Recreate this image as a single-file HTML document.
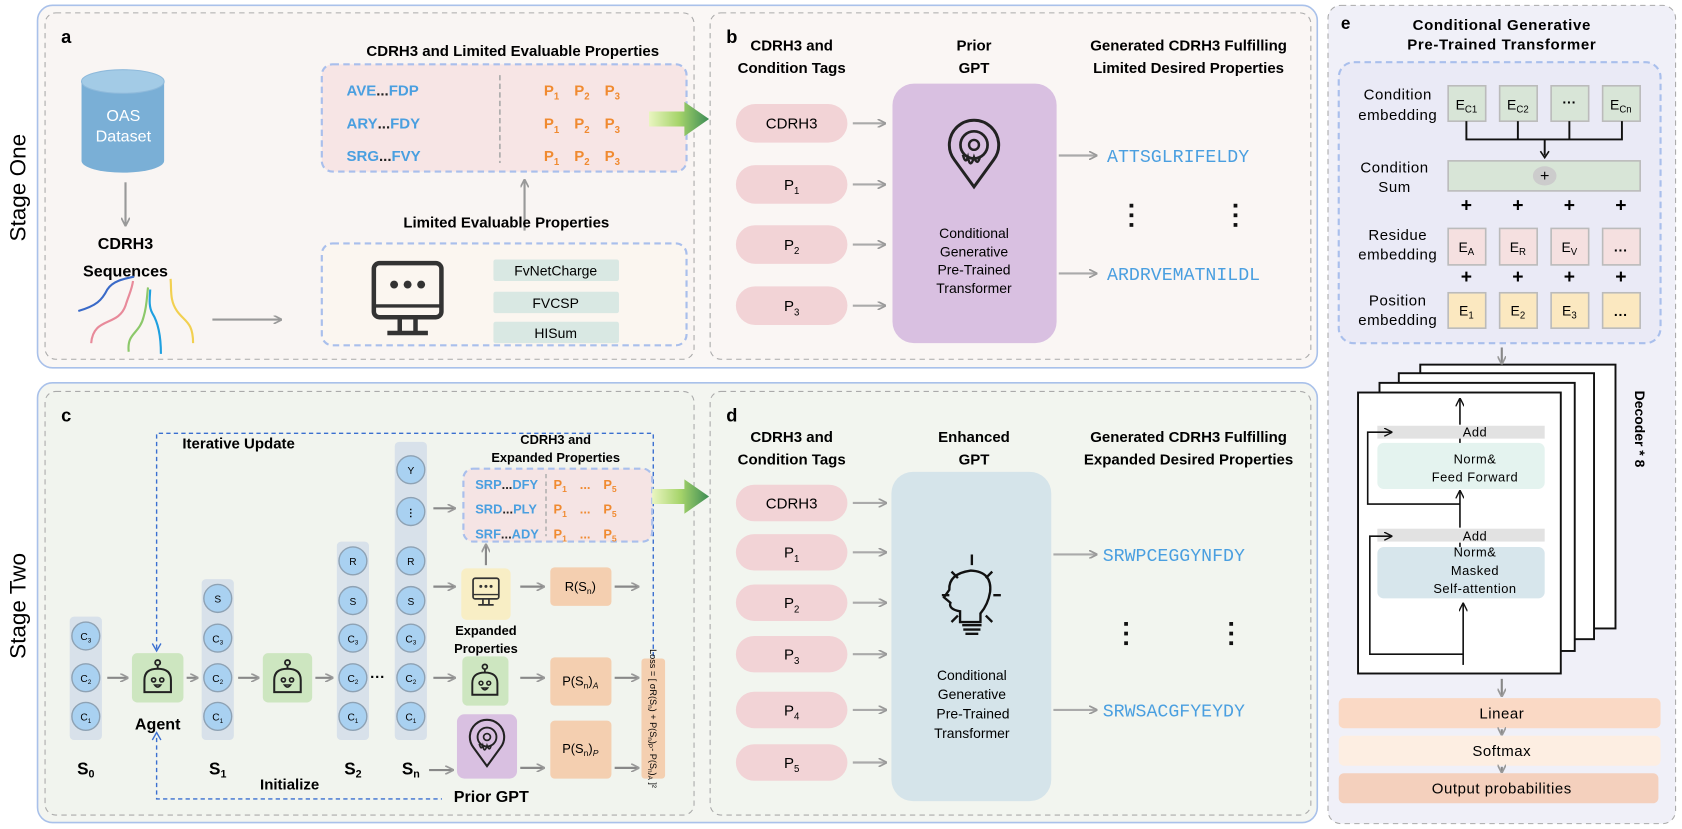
<!DOCTYPE html>
<html><head><meta charset="utf-8"><style>
html,body{margin:0;padding:0;background:#fff;}
svg{display:block;font-family:"Liberation Sans",sans-serif;}
.b{font-weight:bold;}
.seq{font-family:"Liberation Mono",monospace;fill:#4a9fe0;font-size:17px;}
</style></head><body>
<svg width="1682" height="829" viewBox="0 0 1568 773" preserveAspectRatio="none" xmlns="http://www.w3.org/2000/svg">
<defs>
<marker id="ar" markerWidth="8" markerHeight="8" refX="7" refY="4" orient="auto" markerUnits="userSpaceOnUse"><path d="M0,0 L8,4 L0,8" fill="none" stroke="#999" stroke-width="1.6"/></marker>
<marker id="ab" markerWidth="8" markerHeight="8" refX="7" refY="4" orient="auto" markerUnits="userSpaceOnUse"><path d="M0,0 L8,4 L0,8" fill="none" stroke="#3a6fd0" stroke-width="1.3"/></marker>
<marker id="ak" markerWidth="8" markerHeight="8" refX="7" refY="4" orient="auto" markerUnits="userSpaceOnUse"><path d="M0,0 L8,4 L0,8" fill="none" stroke="#111" stroke-width="1.3"/></marker>
<linearGradient id="gg" x1="0" x2="1"><stop offset="0" stop-color="#e9f5c0"/><stop offset="0.5" stop-color="#a6d46a"/><stop offset="1" stop-color="#3d8c55"/></linearGradient>
<g id="robot"><circle cx="0" cy="-17" r="2.5" fill="none" stroke="#222" stroke-width="1.8"/><line x1="0" y1="-14" x2="0" y2="-11" stroke="#222" stroke-width="1.8"/><path d="M-13,12 L-13,0 Q-13,-11 0,-11 Q13,-11 13,0 L13,12 Z" fill="none" stroke="#222" stroke-width="2"/><circle cx="-4" cy="0" r="2" fill="none" stroke="#222" stroke-width="1.6"/><circle cx="4" cy="0" r="2" fill="none" stroke="#222" stroke-width="1.6"/><path d="M-3,5 Q0,9 3,5 Z" fill="none" stroke="#222" stroke-width="1.5"/></g>
<g id="pin"><path d="M0,28 L-16,6 A20,20 0 1 1 16,6 Z" fill="none" stroke="#222" stroke-width="2.4"/><circle cx="0" cy="-6" r="11" fill="none" stroke="#222" stroke-width="2.2"/><circle cx="0" cy="-6" r="4" fill="none" stroke="#222" stroke-width="2"/><path d="M-9,2 q2,8 4,2 q2,10 5,0 q3,8 5,-1" fill="none" stroke="#222" stroke-width="2"/></g>
<g id="mon"><rect x="-30" y="-32" width="60" height="48" rx="5" fill="none" stroke="#333" stroke-width="4"/><line x1="-30" y1="6" x2="30" y2="6" stroke="#333" stroke-width="3"/><circle cx="-12" cy="-13" r="3.5" fill="#333"/><circle cx="0" cy="-13" r="3.5" fill="#333"/><circle cx="12" cy="-13" r="3.5" fill="#333"/><path d="M-7,16 V28 M7,16 V28 M-18,30 H18" stroke="#333" stroke-width="4" fill="none"/></g>
<g id="circ"><circle r="13" fill="#a9d1f1" stroke="#8ea2b4" stroke-width="1.3"/></g>
</defs>

<rect x="35" y="5" width="1193" height="338" rx="14" fill="#faf7f5" stroke="#a9c1ea" stroke-width="1.5"/>
<rect x="35" y="357" width="1193" height="410" rx="14" fill="#f3f5f0" stroke="#a9c1ea" stroke-width="1.5"/>
<text transform="translate(24,175) rotate(-90)" text-anchor="middle" font-size="21">Stage One</text>
<text transform="translate(24,565) rotate(-90)" text-anchor="middle" font-size="21">Stage Two</text>

<rect x="42" y="12" width="605" height="323" rx="10" fill="#f9f5f3" stroke="#aaa" stroke-dasharray="5,4"/>
<rect x="662" y="12" width="560" height="323" rx="10" fill="#faf6f4" stroke="#aaa" stroke-dasharray="5,4"/>
<rect x="42" y="365" width="605" height="395" rx="10" fill="#f1f4ee" stroke="#aaa" stroke-dasharray="5,4"/>
<rect x="662" y="365" width="560" height="395" rx="10" fill="#f2f5ef" stroke="#aaa" stroke-dasharray="5,4"/>
<rect x="1238" y="5" width="324" height="763" rx="12" fill="#f0f0f8" stroke="#aaa" stroke-dasharray="5,4"/>

<!-- Panel a -->
<text x="57" y="40" class="b" font-size="17">a</text>
<path d="M76,76 V150 A38.5,11 0 0 0 153,150 V76" fill="#7aafd6"/>
<ellipse cx="114.5" cy="76" rx="38.5" ry="11" fill="#a3cbe6" stroke="#8fbadb"/>
<text x="115" y="113" text-anchor="middle" fill="#fff" font-size="15">OAS</text>
<text x="115" y="132" text-anchor="middle" fill="#fff" font-size="15">Dataset</text>
<line x1="117" y1="170" x2="117" y2="210" stroke="#999" stroke-width="2" marker-end="url(#ar)"/>
<text x="117" y="232" text-anchor="middle" class="b" font-size="15">CDRH3</text>
<text x="117" y="258" text-anchor="middle" class="b" font-size="15">Sequences</text>
<path d="M73,290 C90,285 95,280 100,270 C105,262 115,260 125,258" fill="none" stroke="#3a6ac8" stroke-width="2"/>
<path d="M85,320 C87,295 110,305 117,285 C120,275 123,270 124,262" fill="none" stroke="#e88a9a" stroke-width="2"/>
<path d="M120,328 C118,310 130,312 134,295 C137,285 137,275 138,268" fill="none" stroke="#8cc86a" stroke-width="2"/>
<path d="M150,330 C150,312 147,300 142,292 C138,285 140,275 140,270" fill="none" stroke="#1fa0e0" stroke-width="2"/>
<path d="M180,320 C180,300 172,300 165,290 C158,280 160,270 159,260" fill="none" stroke="#f2d050" stroke-width="2"/>
<line x1="198" y1="298" x2="262" y2="298" stroke="#999" stroke-width="2" marker-end="url(#ar)"/>

<text x="478" y="52" text-anchor="middle" class="b" font-size="14">CDRH3 and Limited Evaluable Properties</text>
<rect x="300" y="60" width="340" height="100" rx="10" fill="#f7e5e5" stroke="#a9bfec" stroke-width="2" stroke-dasharray="6,4"/>
<line x1="466" y1="70" x2="466" y2="152" stroke="#aaa" stroke-width="1.5" stroke-dasharray="5,3"/>
<g class="b" font-size="14" fill="#4a9fe0">
<text x="323" y="89">AVE<tspan fill="#222">...</tspan>FDP</text>
<text x="323" y="120">ARY<tspan fill="#222">...</tspan>FDY</text>
<text x="323" y="150">SRG<tspan fill="#222">...</tspan>FVY</text>
</g>
<g class="b" font-size="14" fill="#f08a30">
<text x="507" y="89">P<tspan font-size="9" dy="4">1</tspan><tspan dx="14" dy="-4">P</tspan><tspan font-size="9" dy="4">2</tspan><tspan dx="14" dy="-4">P</tspan><tspan font-size="9" dy="4">3</tspan></text>
<text x="507" y="120">P<tspan font-size="9" dy="4">1</tspan><tspan dx="14" dy="-4">P</tspan><tspan font-size="9" dy="4">2</tspan><tspan dx="14" dy="-4">P</tspan><tspan font-size="9" dy="4">3</tspan></text>
<text x="507" y="150">P<tspan font-size="9" dy="4">1</tspan><tspan dx="14" dy="-4">P</tspan><tspan font-size="9" dy="4">2</tspan><tspan dx="14" dy="-4">P</tspan><tspan font-size="9" dy="4">3</tspan></text>
</g>
<line x1="489" y1="215" x2="489" y2="168" stroke="#999" stroke-width="2" marker-end="url(#ar)"/>
<text x="472" y="212" text-anchor="middle" class="b" font-size="14">Limited Evaluable Properties</text>
<rect x="300" y="227" width="340" height="95" rx="10" fill="#fbf6f0" stroke="#a9bfec" stroke-width="2" stroke-dasharray="6,4"/>
<use href="#mon" transform="translate(380,279) scale(1.05)"/>
<rect x="460" y="242" width="117" height="20" rx="2" fill="#d9e8e3"/>
<rect x="460" y="272" width="117" height="20" rx="2" fill="#d9e8e3"/>
<rect x="460" y="300" width="117" height="20" rx="2" fill="#d9e8e3"/>
<g font-size="13" text-anchor="middle"><text x="518" y="257">FvNetCharge</text><text x="518" y="287">FVCSP</text><text x="518" y="315">HISum</text></g>
<path d="M605,104 H638 V95 L661,111 L638,127 V118 H605 Z" fill="url(#gg)"/>

<!-- Panel b -->
<text x="677" y="40" class="b" font-size="17">b</text>
<g class="b" font-size="14" text-anchor="middle">
<text x="738" y="47">CDRH3 and</text><text x="738" y="68">Condition Tags</text>
<text x="908" y="47">Prior</text><text x="908" y="68">GPT</text>
<text x="1108" y="47">Generated CDRH3 Fulfilling</text><text x="1108" y="68">Limited Desired Properties</text>
</g>
<g fill="#f2d3d6"><rect x="686" y="97" width="104" height="36" rx="18"/><rect x="686" y="154" width="104" height="36" rx="18"/><rect x="686" y="210" width="104" height="36" rx="18"/><rect x="686" y="267" width="104" height="36" rx="18"/></g>
<g font-size="14" text-anchor="middle"><text x="738" y="120">CDRH3</text><text x="738" y="177">P<tspan font-size="9" dy="4">1</tspan></text><text x="738" y="233">P<tspan font-size="9" dy="4">2</tspan></text><text x="738" y="290">P<tspan font-size="9" dy="4">3</tspan></text></g>
<g stroke="#aaa" stroke-width="2" marker-end="url(#ar)"><line x1="795" y1="115" x2="825" y2="115"/><line x1="795" y1="172" x2="825" y2="172"/><line x1="795" y1="228" x2="825" y2="228"/><line x1="795" y1="285" x2="825" y2="285"/></g>
<rect x="832" y="78" width="153" height="242" rx="20" fill="#d9c0e1"/>
<use href="#pin" transform="translate(908,142) scale(1.15)"/>
<g font-size="13" text-anchor="middle"><text x="908" y="222">Conditional</text><text x="908" y="239">Generative</text><text x="908" y="256">Pre-Trained</text><text x="908" y="273">Transformer</text></g>
<g stroke="#aaa" stroke-width="2" marker-end="url(#ar)"><line x1="987" y1="145" x2="1022" y2="145"/><line x1="987" y1="255" x2="1022" y2="255"/></g>
<text x="1032" y="151" class="seq">ATTSGLRIFELDY</text>
<text x="1032" y="261" class="seq">ARDRVEMATNILDL</text>
<g fill="#111"><rect x="1053" y="190" width="3.5" height="3.5"/><rect x="1053" y="199" width="3.5" height="3.5"/><rect x="1053" y="208" width="3.5" height="3.5"/><rect x="1150" y="190" width="3.5" height="3.5"/><rect x="1150" y="199" width="3.5" height="3.5"/><rect x="1150" y="208" width="3.5" height="3.5"/></g>

<!-- Panel c -->
<text x="57" y="393" class="b" font-size="17">c</text>
<path d="M146,605 V404 H609 V612" fill="none" stroke="#3a6fd0" stroke-width="1.3" stroke-dasharray="4,3"/>
<path d="M146,688 V745 H412" fill="none" stroke="#3a6fd0" stroke-width="1.3" stroke-dasharray="4,3"/>
<path d="M142,600 L146,607 L150,600 M142,690 L146,683 L150,690" fill="none" stroke="#3a6fd0" stroke-width="1.3"/>
<text x="170" y="418" class="b" font-size="14">Iterative Update</text>
<text x="270" y="736" text-anchor="middle" class="b" font-size="14">Initialize</text>
<text x="458" y="748" text-anchor="middle" class="b" font-size="15">Prior GPT</text>

<g fill="#d8e1ea">
<rect x="65" y="575" width="30" height="115" rx="4"/>
<rect x="188" y="540" width="30" height="150" rx="4"/>
<rect x="314" y="505" width="30" height="185" rx="4"/>
<rect x="368" y="412" width="30" height="278" rx="4"/>
</g>
<g font-size="9.5" text-anchor="middle">
<use href="#circ" x="80" y="593"/><use href="#circ" x="80" y="632"/><use href="#circ" x="80" y="668"/>
<text x="80" y="597">C<tspan font-size="6" dy="2">3</tspan></text><text x="80" y="636">C<tspan font-size="6" dy="2">2</tspan></text><text x="80" y="672">C<tspan font-size="6" dy="2">1</tspan></text>
<use href="#circ" x="203" y="558"/><use href="#circ" x="203" y="595"/><use href="#circ" x="203" y="632"/><use href="#circ" x="203" y="668"/>
<text x="203" y="562">S</text><text x="203" y="599">C<tspan font-size="6" dy="2">3</tspan></text><text x="203" y="636">C<tspan font-size="6" dy="2">2</tspan></text><text x="203" y="672">C<tspan font-size="6" dy="2">1</tspan></text>
<use href="#circ" x="329" y="523"/><use href="#circ" x="329" y="560"/><use href="#circ" x="329" y="595"/><use href="#circ" x="329" y="632"/><use href="#circ" x="329" y="668"/>
<text x="329" y="527">R</text><text x="329" y="564">S</text><text x="329" y="599">C<tspan font-size="6" dy="2">3</tspan></text><text x="329" y="636">C<tspan font-size="6" dy="2">2</tspan></text><text x="329" y="672">C<tspan font-size="6" dy="2">1</tspan></text>
<use href="#circ" x="383" y="438"/><use href="#circ" x="383" y="477"/><use href="#circ" x="383" y="523"/><use href="#circ" x="383" y="560"/><use href="#circ" x="383" y="595"/><use href="#circ" x="383" y="632"/><use href="#circ" x="383" y="668"/>
<text x="383" y="442">Y</text><text x="383" y="481" class="b">⋮</text><text x="383" y="527">R</text><text x="383" y="564">S</text><text x="383" y="599">C<tspan font-size="6" dy="2">3</tspan></text><text x="383" y="636">C<tspan font-size="6" dy="2">2</tspan></text><text x="383" y="672">C<tspan font-size="6" dy="2">1</tspan></text>
</g>
<text x="352" y="636" text-anchor="middle" class="b" font-size="14">···</text>
<g class="b" font-size="16" text-anchor="middle">
<text x="80" y="722">S<tspan font-size="10" dy="3">0</tspan></text><text x="203" y="722">S<tspan font-size="10" dy="3">1</tspan></text><text x="329" y="722">S<tspan font-size="10" dy="3">2</tspan></text><text x="383" y="722">S<tspan font-size="10" dy="3">n</tspan></text>
</g>
<g fill="#cde6c0"><rect x="123" y="609" width="48" height="46" rx="5"/><rect x="245" y="609" width="46" height="46" rx="5"/><rect x="431" y="612" width="43" height="46" rx="5"/></g>
<use href="#robot" transform="translate(147,634) scale(0.95)"/>
<use href="#robot" transform="translate(268,634) scale(0.95)"/>
<use href="#robot" transform="translate(452,637) scale(0.9)"/>
<text x="147" y="680" text-anchor="middle" class="b" font-size="15">Agent</text>
<g stroke="#888" stroke-width="2" marker-end="url(#ar)">
<line x1="100" y1="632" x2="119" y2="632"/><line x1="174" y1="632" x2="184" y2="632"/><line x1="222" y1="632" x2="241" y2="632"/><line x1="294" y1="632" x2="310" y2="632"/>
<line x1="404" y1="474" x2="424" y2="474"/><line x1="404" y1="547" x2="424" y2="547"/><line x1="404" y1="632" x2="424" y2="632"/><line x1="400" y1="718" x2="422" y2="718"/>
<line x1="485" y1="547" x2="507" y2="547"/><line x1="485" y1="632" x2="507" y2="632"/><line x1="485" y1="716" x2="507" y2="716"/>
<line x1="573" y1="547" x2="595" y2="547"/><line x1="573" y1="632" x2="595" y2="632"/><line x1="573" y1="716" x2="595" y2="716"/>
<line x1="453" y1="527" x2="453" y2="508"/>
</g>
<text x="518" y="414" text-anchor="middle" class="b" font-size="12">CDRH3 and</text>
<text x="518" y="431" text-anchor="middle" class="b" font-size="12">Expanded Properties</text>
<rect x="432" y="437" width="176" height="68" rx="9" fill="#f5e4e4" stroke="#a9bfec" stroke-width="2" stroke-dasharray="6,4"/>
<line x1="509" y1="442" x2="509" y2="500" stroke="#aaa" stroke-width="1.3" stroke-dasharray="4,3"/>
<g class="b" font-size="12" fill="#4a9fe0"><text x="443" y="456">SRP<tspan fill="#222">...</tspan>DFY</text><text x="443" y="479">SRD<tspan fill="#222">...</tspan>PLY</text><text x="443" y="502">SRF<tspan fill="#222">...</tspan>ADY</text></g>
<g class="b" font-size="12" fill="#f08a30"><text x="516" y="456">P<tspan font-size="8" dy="3">1</tspan><tspan dx="12" dy="-3">...</tspan><tspan dx="12">P</tspan><tspan font-size="8" dy="3">5</tspan></text><text x="516" y="479">P<tspan font-size="8" dy="3">1</tspan><tspan dx="12" dy="-3">...</tspan><tspan dx="12">P</tspan><tspan font-size="8" dy="3">5</tspan></text><text x="516" y="502">P<tspan font-size="8" dy="3">1</tspan><tspan dx="12" dy="-3">...</tspan><tspan dx="12">P</tspan><tspan font-size="8" dy="3">5</tspan></text></g>
<rect x="430" y="530" width="46" height="48" rx="5" fill="#f8eec5"/>
<use href="#mon" transform="translate(453,552) scale(0.4)"/>
<text x="453" y="592" text-anchor="middle" class="b" font-size="12">Expanded</text>
<text x="453" y="609" text-anchor="middle" class="b" font-size="12">Properties</text>
<rect x="426" y="666" width="56" height="60" rx="7" fill="#d9c0e1"/>
<use href="#pin" transform="translate(454,692) scale(0.8)"/>
<g fill="#f4cfb0"><rect x="513" y="529" width="57" height="36" rx="4"/><rect x="513" y="613" width="57" height="45" rx="4"/><rect x="513" y="672" width="57" height="54" rx="4"/><rect x="598" y="614" width="22" height="112" rx="3"/></g>
<g font-size="12" text-anchor="middle"><text x="541" y="551">R(S<tspan font-size="8" dy="3">n</tspan><tspan dy="-3">)</tspan></text><text x="541" y="639">P(S<tspan font-size="8" dy="3">n</tspan><tspan dy="-3">)</tspan><tspan font-size="8" dy="3" font-style="italic">A</tspan></text><text x="541" y="702">P(S<tspan font-size="8" dy="3">n</tspan><tspan dy="-3">)</tspan><tspan font-size="8" dy="3" font-style="italic">P</tspan></text></g>
<text transform="translate(606,670) rotate(90)" text-anchor="middle" font-size="8.5">Loss = [ σR(S<tspan font-size="6" dy="2">n</tspan><tspan dy="-2">) + P(S</tspan><tspan font-size="6" dy="2">n</tspan><tspan dy="-2">)</tspan><tspan font-size="6" dy="2">P</tspan><tspan dy="-2">- P(S</tspan><tspan font-size="6" dy="2">n</tspan><tspan dy="-2">)</tspan><tspan font-size="6" dy="2">A</tspan><tspan dy="-2"> ]²</tspan></text>
<path d="M608,456 H638 V447 L661,463 L638,479 V470 H608 Z" fill="url(#gg)"/>

<!-- Panel d -->
<text x="677" y="393" class="b" font-size="17">d</text>
<g class="b" font-size="14" text-anchor="middle">
<text x="738" y="412">CDRH3 and</text><text x="738" y="433">Condition Tags</text>
<text x="908" y="412">Enhanced</text><text x="908" y="433">GPT</text>
<text x="1108" y="412">Generated CDRH3 Fulfilling</text><text x="1108" y="433">Expanded Desired Properties</text>
</g>
<g fill="#f2d3d6"><rect x="686" y="452" width="104" height="34" rx="17"/><rect x="686" y="498" width="104" height="34" rx="17"/><rect x="686" y="545" width="104" height="34" rx="17"/><rect x="686" y="593" width="104" height="34" rx="17"/><rect x="686" y="645" width="104" height="34" rx="17"/><rect x="686" y="694" width="104" height="34" rx="17"/></g>
<g font-size="14" text-anchor="middle"><text x="738" y="474">CDRH3</text><text x="738" y="520">P<tspan font-size="9" dy="4">1</tspan></text><text x="738" y="567">P<tspan font-size="9" dy="4">2</tspan></text><text x="738" y="615">P<tspan font-size="9" dy="4">3</tspan></text><text x="738" y="667">P<tspan font-size="9" dy="4">4</tspan></text><text x="738" y="716">P<tspan font-size="9" dy="4">5</tspan></text></g>
<g stroke="#aaa" stroke-width="2" marker-end="url(#ar)"><line x1="795" y1="469" x2="826" y2="469"/><line x1="795" y1="515" x2="826" y2="515"/><line x1="795" y1="562" x2="826" y2="562"/><line x1="795" y1="610" x2="826" y2="610"/><line x1="795" y1="662" x2="826" y2="662"/><line x1="795" y1="711" x2="826" y2="711"/></g>
<rect x="831" y="440" width="149" height="307" rx="20" fill="#d5e4ea"/>
<g stroke="#111" stroke-width="2.2" fill="none">
<path d="M906,527 V517 M887,533 L893,539 M925,533 L919,539 M878,555 H885 M926,555 H933 M887,580 L893,574 M925,580 L919,574"/>
<path d="M895,580 V570 Q884,568 886,562 L880,557 L885,550 Q884,535 905,532 Q925,533 923,552 Q921,564 914,572 V580 Z"/>
<path d="M897,583 H915 M898,587 H914 M900,591 H912"/>
</g>
<g font-size="13" text-anchor="middle"><text x="906" y="634">Conditional</text><text x="906" y="652">Generative</text><text x="907" y="670">Pre-Trained</text><text x="906" y="688">Transformer</text></g>
<g stroke="#aaa" stroke-width="2" marker-end="url(#ar)"><line x1="982" y1="517" x2="1022" y2="517"/><line x1="982" y1="662" x2="1022" y2="662"/></g>
<text x="1028" y="523" class="seq">SRWPCEGGYNFDY</text>
<text x="1028" y="668" class="seq">SRWSACGFYEYDY</text>
<g fill="#111"><rect x="1048" y="580" width="3.5" height="3.5"/><rect x="1048" y="589" width="3.5" height="3.5"/><rect x="1048" y="598" width="3.5" height="3.5"/><rect x="1146" y="580" width="3.5" height="3.5"/><rect x="1146" y="589" width="3.5" height="3.5"/><rect x="1146" y="598" width="3.5" height="3.5"/></g>

<!-- Panel e -->
<text x="1250" y="27" class="b" font-size="16">e</text>
<text x="1400" y="28" text-anchor="middle" class="b" font-size="14" letter-spacing="0.6">Conditional Generative</text>
<text x="1400" y="46" text-anchor="middle" class="b" font-size="14" letter-spacing="0.6">Pre-Trained Transformer</text>
<rect x="1248" y="58" width="300" height="262" rx="14" fill="#eaeaf6" stroke="#a9bfec" stroke-width="2" stroke-dasharray="6,4"/>
<g font-size="14" text-anchor="middle" letter-spacing="0.5">
<text x="1303" y="93">Condition</text><text x="1303" y="112">embedding</text>
<text x="1300" y="161">Condition</text><text x="1300" y="179">Sum</text>
<text x="1303" y="224">Residue</text><text x="1303" y="242">embedding</text>
<text x="1303" y="285">Position</text><text x="1303" y="303">embedding</text>
</g>
<g stroke="#bbb" stroke-width="1.5">
<g fill="#d8e5d7"><rect x="1350" y="80" width="35" height="33"/><rect x="1398" y="80" width="35" height="33"/><rect x="1446" y="80" width="35" height="33"/><rect x="1494" y="80" width="35" height="33"/><rect x="1350" y="150" width="179" height="28"/></g>
<g fill="#f5e0e0"><rect x="1350" y="213" width="35" height="34"/><rect x="1398" y="213" width="35" height="34"/><rect x="1446" y="213" width="35" height="34"/><rect x="1494" y="213" width="35" height="34"/></g>
<g fill="#fbe8c0"><rect x="1350" y="273" width="35" height="33"/><rect x="1398" y="273" width="35" height="33"/><rect x="1446" y="273" width="35" height="33"/><rect x="1494" y="273" width="35" height="33"/></g>
</g>
<path d="M1367,113 V130 H1512 V113 M1415,113 V130 M1463,130 V113 M1440,130 V145" fill="none" stroke="#111" stroke-width="1.8"/>
<path d="M1436,141 L1440,147 L1444,141" fill="none" stroke="#111" stroke-width="1.5"/>
<ellipse cx="1440" cy="164" rx="11" ry="9" fill="#ccc"/>
<text x="1440" y="169" text-anchor="middle" font-size="15">+</text>
<g font-size="13" text-anchor="middle">
<text x="1367" y="102">E<tspan font-size="9" dy="3">C1</tspan></text><text x="1415" y="102">E<tspan font-size="9" dy="3">C2</tspan></text><text x="1463" y="100" class="b">···</text><text x="1511" y="102">E<tspan font-size="9" dy="3">Cn</tspan></text>
<text x="1367" y="235">E<tspan font-size="9" dy="3">A</tspan></text><text x="1415" y="235">E<tspan font-size="9" dy="3">R</tspan></text><text x="1463" y="235">E<tspan font-size="9" dy="3">V</tspan></text><text x="1511" y="238" class="b">···</text>
<text x="1367" y="294">E<tspan font-size="9" dy="3">1</tspan></text><text x="1415" y="294">E<tspan font-size="9" dy="3">2</tspan></text><text x="1463" y="294">E<tspan font-size="9" dy="3">3</tspan></text><text x="1511" y="298" class="b">···</text>
</g>
<g font-size="18" class="b" text-anchor="middle"><text x="1367" y="197">+</text><text x="1415" y="197">+</text><text x="1463" y="197">+</text><text x="1511" y="197">+</text><text x="1367" y="264">+</text><text x="1415" y="264">+</text><text x="1463" y="264">+</text><text x="1511" y="264">+</text></g>
<g fill="#fff" stroke="#111" stroke-width="1.8">
<rect x="1324" y="340" width="182" height="246"/>
<rect x="1304" y="348" width="182" height="248"/>
<rect x="1286" y="357" width="182" height="250"/>
<rect x="1266" y="366" width="189" height="262"/>
</g>
<text transform="translate(1524,400) rotate(90)" text-anchor="middle" class="b" font-size="13">Decoder * 8</text>
<rect x="1284" y="397" width="156" height="12" fill="#e2e2e2"/>
<rect x="1284" y="413" width="156" height="43" rx="6" fill="#e4f3ef"/>
<rect x="1284" y="493" width="156" height="12" fill="#e2e2e2"/>
<rect x="1284" y="510" width="156" height="48" rx="6" fill="#d7e6ec"/>
<g fill="none" stroke="#111" stroke-width="1.5">
<path d="M1361,396 V372" marker-end="url(#ak)"/><path d="M1361,413 V409"/>
<path d="M1361,492 V458" marker-end="url(#ak)"/><path d="M1361,510 V506"/>
<path d="M1364,620 V563" marker-end="url(#ak)"/>
<path d="M1361,470 H1275 V403 H1297" marker-end="url(#ak)"/>
<path d="M1364,610 H1277 V500 H1297" marker-end="url(#ak)"/>
</g>
<g font-size="12" text-anchor="middle" letter-spacing="0.5">
<text x="1375" y="407">Add</text><text x="1375" y="432">Norm&amp;</text><text x="1375" y="449">Feed Forward</text>
<text x="1375" y="504">Add</text><text x="1375" y="519">Norm&amp;</text><text x="1375" y="536">Masked</text><text x="1375" y="553">Self-attention</text>
</g>
<rect x="1248" y="651" width="300" height="28" rx="5" fill="#fad9c5"/>
<rect x="1248" y="686" width="300" height="28" rx="5" fill="#fdeee2"/>
<rect x="1248" y="721" width="298" height="28" rx="5" fill="#f4d0bd"/>
<g font-size="14" text-anchor="middle" letter-spacing="0.5"><text x="1400" y="670">Linear</text><text x="1400" y="705">Softmax</text><text x="1400" y="740">Output probabilities</text></g>
<g stroke="#888" stroke-width="2" marker-end="url(#ar)"><line x1="1400" y1="324" x2="1400" y2="339"/><line x1="1400" y1="633" x2="1400" y2="649"/><line x1="1400" y1="680" x2="1400" y2="685"/><line x1="1400" y1="715" x2="1400" y2="720"/></g>
</svg>
</body></html>
